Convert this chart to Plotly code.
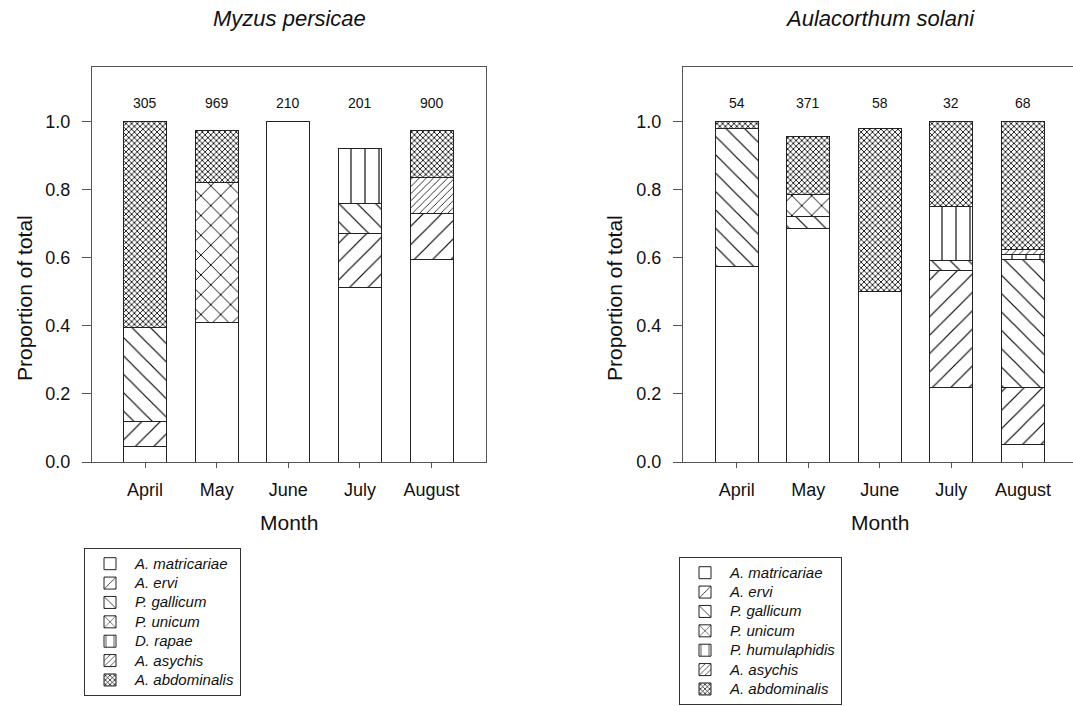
import plotly.graph_objects as go

months = ["April", "May", "June", "July", "August"]

# Myzus persicae: sample sizes and segment proportions (bottom to top)
mp_counts = [305, 969, 210, 201, 900]
mp_matricariae = [0.047, 0.410, 1.000, 0.512, 0.595]
mp_ervi = [0.071, None, None, 0.158, 0.135]
mp_gallicum = [0.276, None, None, 0.090, None]
mp_unicum = [None, 0.410, None, None, None]
mp_rapae = [None, None, None, 0.160, None]
mp_asychis = [None, None, None, None, 0.105]
mp_abdominalis = [0.606, 0.155, None, None, 0.140]

# Aulacorthum solani
as_counts = [54, 371, 58, 32, 68]
as_matricariae = [0.575, 0.685, 0.500, 0.220, 0.050]
as_ervi = [None, None, None, 0.342, 0.170]
as_gallicum = [0.405, 0.036, None, 0.031, 0.375]
as_unicum = [None, 0.066, None, None, None]
as_humulaphidis = [None, None, None, 0.157, 0.013]
as_asychis = [None, None, None, None, 0.016]
as_abdominalis = [0.020, 0.170, 0.480, 0.250, 0.376]

mp_series = [
    ("A. matricariae", mp_matricariae, "none"),
    ("A. ervi", mp_ervi, "ervi"),
    ("P. gallicum", mp_gallicum, "gallicum"),
    ("P. unicum", mp_unicum, "unicum"),
    ("D. rapae", mp_rapae, "vert"),
    ("A. asychis", mp_asychis, "asychis"),
    ("A. abdominalis", mp_abdominalis, "abdominalis"),
]
as_series = [
    ("A. matricariae", as_matricariae, "none"),
    ("A. ervi", as_ervi, "ervi"),
    ("P. gallicum", as_gallicum, "gallicum"),
    ("P. unicum", as_unicum, "unicum"),
    ("P. humulaphidis", as_humulaphidis, "vert"),
    ("A. asychis", as_asychis, "asychis"),
    ("A. abdominalis", as_abdominalis, "abdominalis"),
]

patterns = {
    "none": dict(shape=""),
    "ervi": dict(shape="/", size=13, solidity=0.09),
    "gallicum": dict(shape="\\", size=13, solidity=0.09),
    "unicum": dict(shape="x", size=14, solidity=0.13),
    "vert": dict(shape="|", size=14, solidity=0.08),
    "asychis": dict(shape="/", size=5, solidity=0.16),
    "abdominalis": dict(shape="x", size=4, solidity=0.38),
}

FONT = "Arial, Liberation Sans, sans-serif"
fig = go.Figure()

def add_panel(series, xa, ya, legend):
    for name, vals, pk in series:
        pat = dict(patterns[pk])
        pat.update(fgcolor="#000000", bgcolor="white", fillmode="replace")
        fig.add_trace(go.Bar(
            x=months, y=vals,
            name="<span style='font-size:15px'><i>%s</i></span>" % name,
            xaxis=xa, yaxis=ya, legend=legend,
            marker=dict(color="white", line=dict(color="#222222", width=1),
                        pattern=pat),
            width=0.6,
        ))

add_panel(mp_series, "x", "y", "legend")
add_panel(as_series, "x2", "y2", "legend2")

annotations = []
for xr, yr, counts in (("x", "y", mp_counts), ("x2", "y2", as_counts)):
    for m, c in zip(months, counts):
        annotations.append(dict(x=m, y=1.055, xref=xr, yref=yr, text=str(c),
                                showarrow=False, font=dict(size=14, color="#111", family=FONT)))

W, H = 1073, 706
def px(x):
    return x / W
def py(y):
    return 1 - y / H

for text, x in (("Myzus persicae", 289), ("Aulacorthum solani", 880)):
    annotations.append(dict(x=px(x), y=py(19), xref="paper", yref="paper", text="<i>%s</i>" % text,
                            showarrow=False, font=dict(size=22, color="#111", family=FONT),
                            xanchor="center", yanchor="middle"))
for x in (289, 880):
    annotations.append(dict(x=px(x), y=py(522), xref="paper", yref="paper", text="Month",
                            showarrow=False, font=dict(size=21, color="#111", family=FONT),
                            xanchor="center", yanchor="middle"))
for x in (24, 614):
    annotations.append(dict(x=px(x), y=py(298), xref="paper", yref="paper", text="Proportion of total",
                            showarrow=False, textangle=-90, font=dict(size=21, color="#111", family=FONT),
                            xanchor="center", yanchor="middle"))

axis_common = dict(showline=True, linecolor="#555555", linewidth=1,
                   ticks="outside", tickcolor="#555555", showgrid=False, zeroline=False,
                   automargin=False, tickfont=dict(size=18, color="#111", family=FONT))

ydom = [py(462), py(67)]
legend_common = dict(xanchor="left", yanchor="top", bordercolor="#333", borderwidth=1,
                     font=dict(size=12.6, family=FONT, color="#111"), traceorder="normal",
                     itemwidth=40, bgcolor="white")
fig.update_layout(
    width=W, height=H,
    margin=dict(l=0, r=0, t=0, b=0, autoexpand=False),
    paper_bgcolor="white", plot_bgcolor="white",
    barmode="stack",
    font=dict(family=FONT, color="#111"),
    xaxis=dict(domain=[px(92), px(486)], range=[-0.74, 4.76], ticklen=5, ticklabelstandoff=6,
               mirror=True, anchor="y", **axis_common),
    xaxis2=dict(domain=[px(683), 1.0], range=[-0.75, 4.70], ticklen=5, ticklabelstandoff=6,
                mirror=True, anchor="y2", **axis_common),
    yaxis=dict(domain=ydom, range=[0, 1.16], dtick=0.2, tickformat=".1f", ticklen=9,
               ticklabelstandoff=8, mirror=True, anchor="x", **axis_common),
    yaxis2=dict(domain=ydom, range=[0, 1.16], dtick=0.2, tickformat=".1f", ticklen=9,
                ticklabelstandoff=8, mirror=False, anchor="x2", **axis_common),
    legend=dict(x=px(84), y=py(548), **legend_common),
    legend2=dict(x=px(679), y=py(557), **legend_common),
    annotations=annotations,
    showlegend=True,
)

fig.write_html("out.html", config={"displayModeBar": False},
               post_script="document.body.style.margin='0';document.body.style.overflow='hidden';")
